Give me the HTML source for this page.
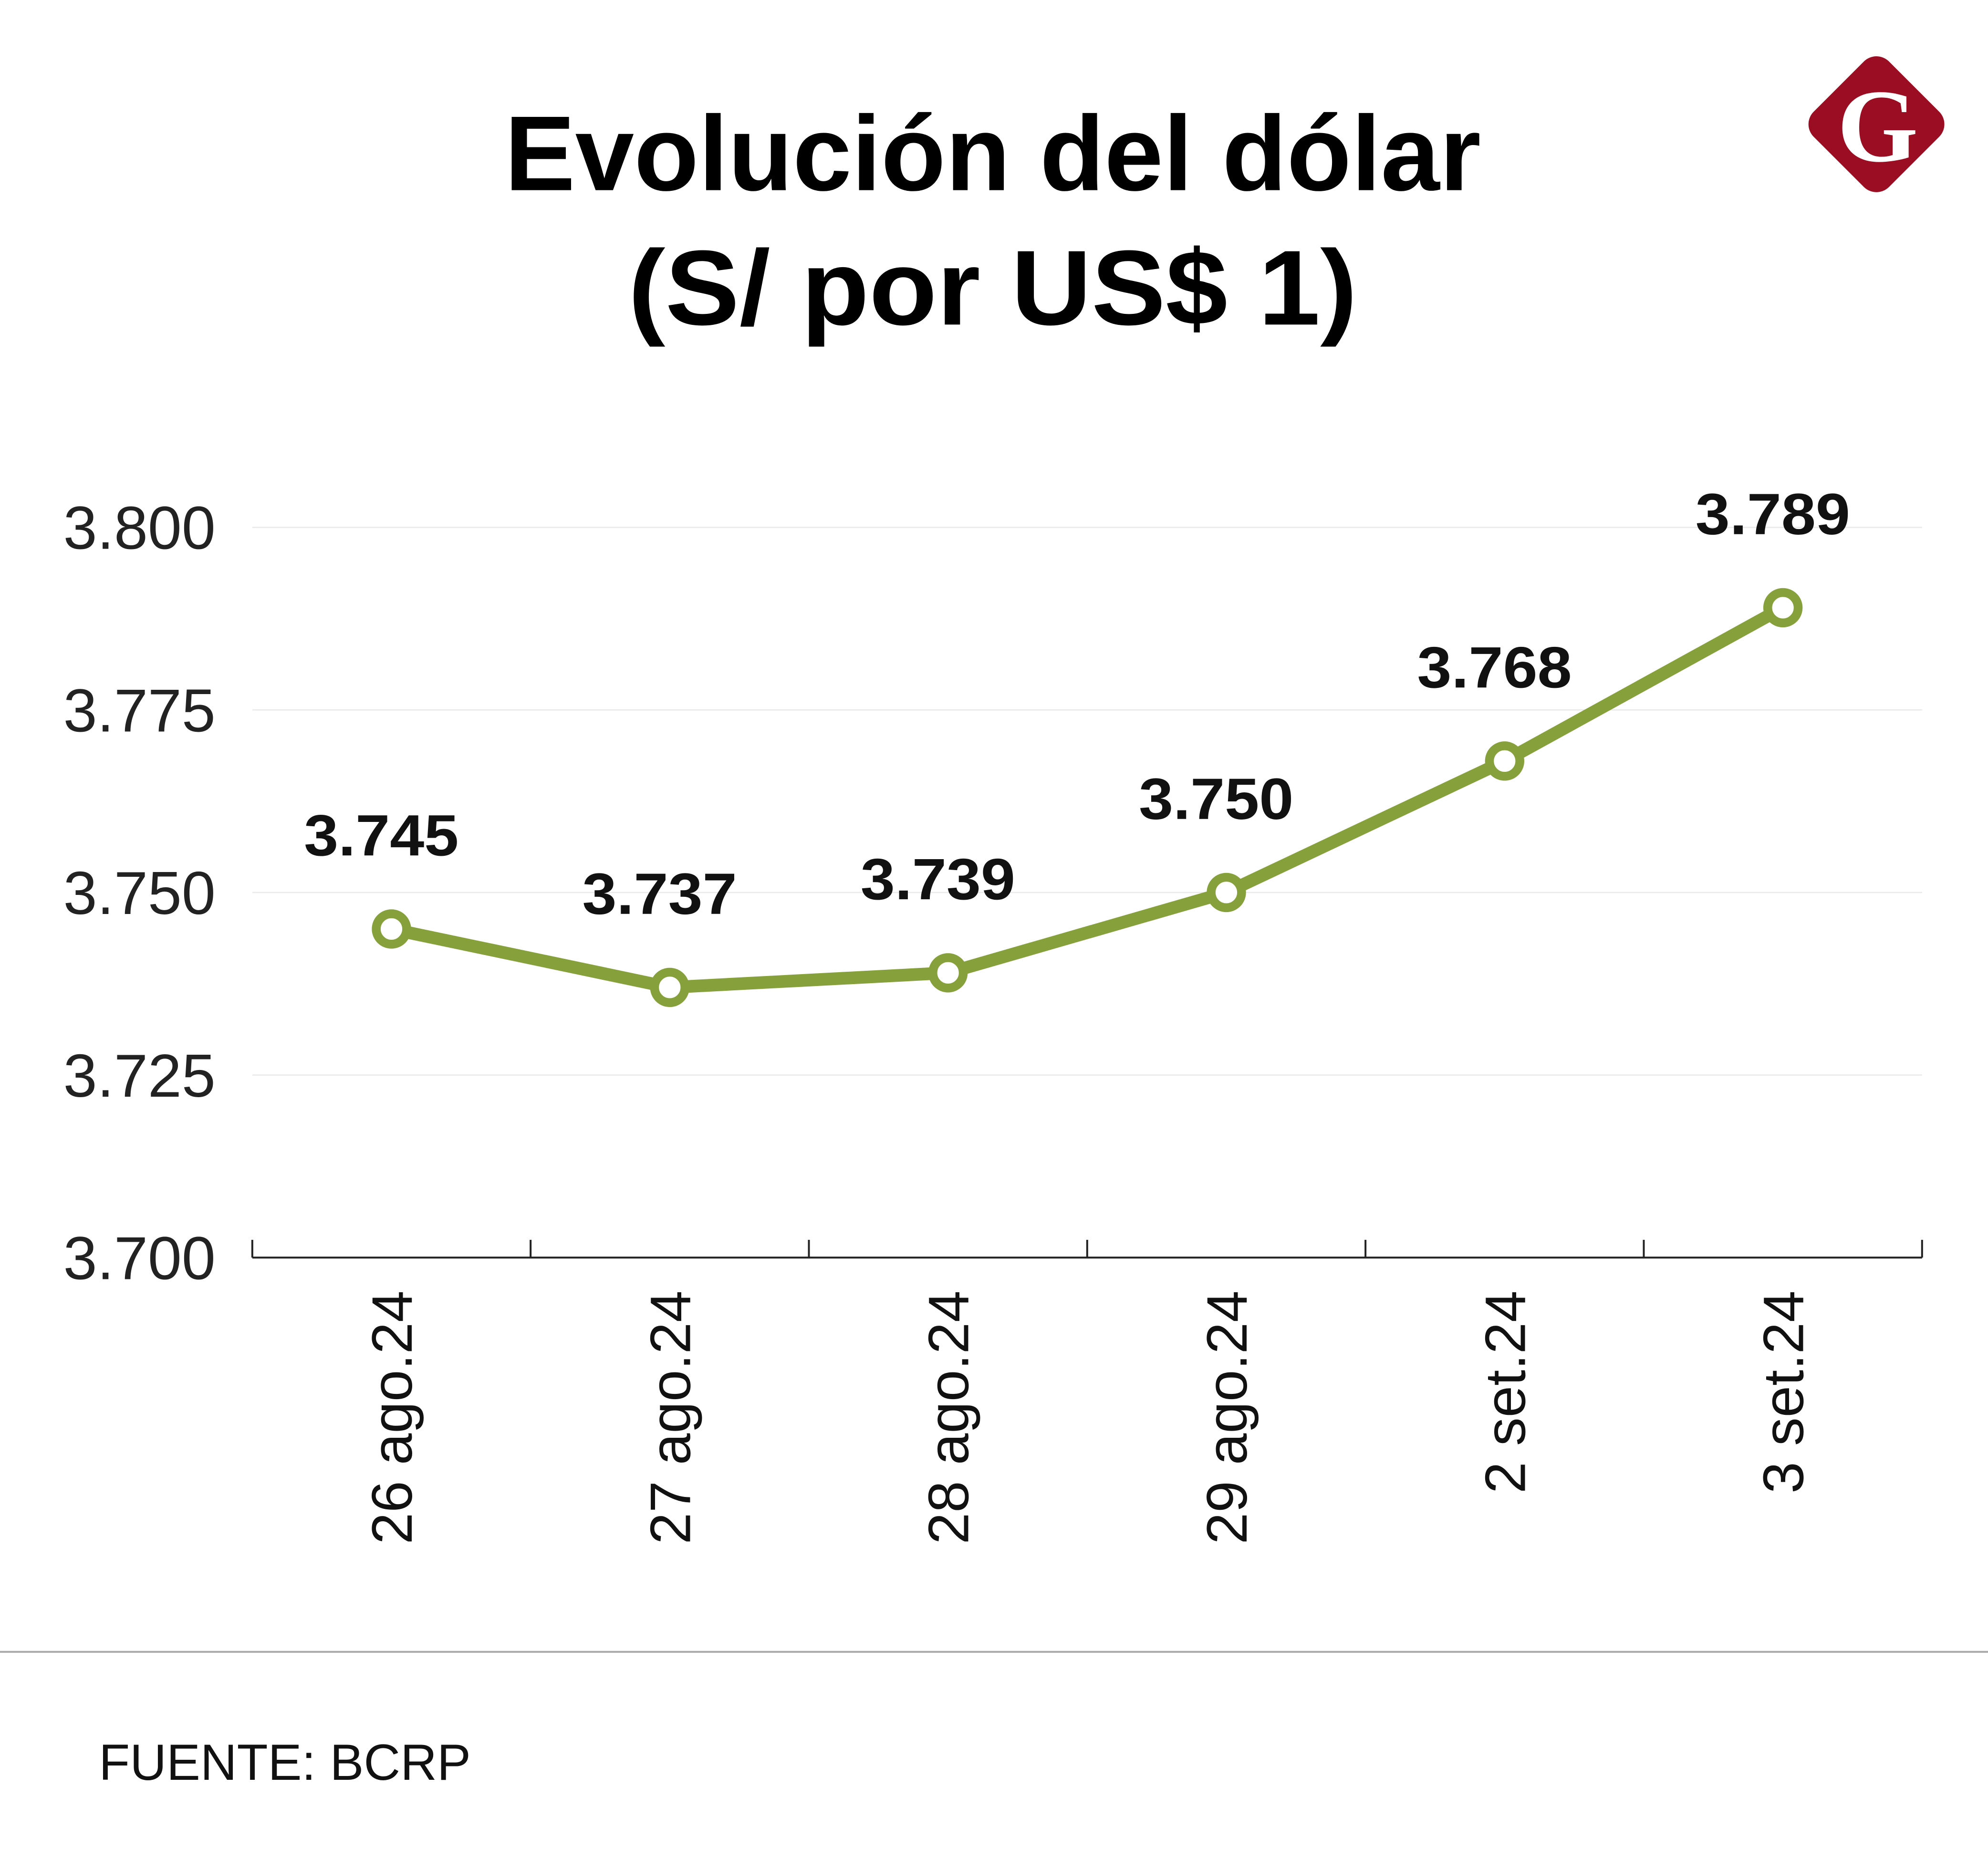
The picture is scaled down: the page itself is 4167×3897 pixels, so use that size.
<!DOCTYPE html>
<html><head><meta charset="utf-8">
<style>
html,body{margin:0;padding:0;background:#fff;}
svg{display:block;}
text{font-family:"Liberation Sans",sans-serif;}
</style></head>
<body>
<svg id="chart" width="4167" height="3897" viewBox="0 0 1568 1466.4" preserveAspectRatio="none" xmlns="http://www.w3.org/2000/svg">
<rect width="1568" height="1466.4" fill="#fff"/>
<text x="783" y="150" text-anchor="middle" font-size="84" font-weight="bold" fill="#000" textLength="770" lengthAdjust="spacingAndGlyphs">Evolución del dólar</text>
<text x="783" y="256" text-anchor="middle" font-size="84" font-weight="bold" fill="#000" textLength="575" lengthAdjust="spacingAndGlyphs">(S/ por US$ 1)</text>
<g>
<rect x="1438" y="56" width="84" height="84" rx="14" fill="#9b0d22" transform="rotate(45 1480 98)"/>
<text x="1481" y="127" text-anchor="middle" font-size="82" font-weight="bold" fill="#fff" style="font-family:'Liberation Serif',serif">G</text>
</g>
<g id="grid"></g>
<g id="yticks"></g>
<g id="xaxis"></g>
<g id="series"></g>
<line x1="0" y1="1303" x2="1568" y2="1303" stroke="#aaa" stroke-width="1.5"/>
<text x="78" y="1404" font-size="40" fill="#111">FUENTE: BCRP</text>
</svg>
<script>
const categories = ["26 ago.24","27 ago.24","28 ago.24","29 ago.24","2 set.24","3 set.24"];
const values = [3.745,3.737,3.739,3.750,3.768,3.789];
const valueLabels = ["3.745","3.737","3.739","3.750","3.768","3.789"];
const yTicks = [3.700,3.725,3.750,3.775,3.800];
const yTickLabels = ["3.700","3.725","3.750","3.775","3.800"];

const NS="http://www.w3.org/2000/svg";
const L=199,R=1516,Y0=992,Y1=416,vmin=3.7,vmax=3.8;
const band=(R-L)/categories.length;
const x=i=>L+band*(i+0.5);
const y=v=>Y0-(v-vmin)/(vmax-vmin)*(Y0-Y1);
function mk(tag,attrs,parent){const e=document.createElementNS(NS,tag);for(const k in attrs)e.setAttribute(k,attrs[k]);parent.appendChild(e);return e;}

const grid=document.getElementById('grid'),yt=document.getElementById('yticks'),xa=document.getElementById('xaxis'),se=document.getElementById('series');
yTicks.forEach((v,i)=>{
  if(v>vmin){const g=mk('line',{x1:L,x2:R,y1:y(v),y2:y(v),stroke:'#eaeaea','stroke-width':1},grid);
  
  }
  const t=mk('text',{x:170,y:y(v)+17,'text-anchor':'end','font-size':48,fill:'#222'},yt);
  t.textContent=yTickLabels[i];
  
  
});
const ax=mk('line',{x1:L,x2:R,y1:Y0,y2:Y0,stroke:'#222','stroke-width':1.5},xa);


for(let i=0;i<=categories.length;i++){
  const tk=mk('line',{x1:L+band*i,x2:L+band*i,y1:Y0,y2:Y0-14,stroke:'#222','stroke-width':1.5},xa);
  
  
}
categories.forEach((c,i)=>{
  const t=mk('text',{x:0,y:0,'text-anchor':'end','font-size':45,fill:'#111',transform:`translate(${x(i)+16},1018) rotate(-90)`},xa);
  t.textContent=c;
  
  
});
const pts=values.map((v,i)=>x(i)+','+y(v)).join(' ');
const pl=mk('polyline',{points:pts,fill:'none',stroke:'#86a03c','stroke-width':10,'stroke-linejoin':'round'},se);


values.forEach((v,i)=>{
  const c=mk('circle',{cx:x(i),cy:y(v),r:12,fill:'#fff',stroke:'#86a03c','stroke-width':7},se);
  
  
  const t=mk('text',{x:x(i)-8,y:y(v)-58,'text-anchor':'middle','font-size':46,'font-weight':'bold',fill:'#111',textLength:122,lengthAdjust:'spacingAndGlyphs'},se);
  t.textContent=valueLabels[i];
  
  
});
</script>
</body></html>
